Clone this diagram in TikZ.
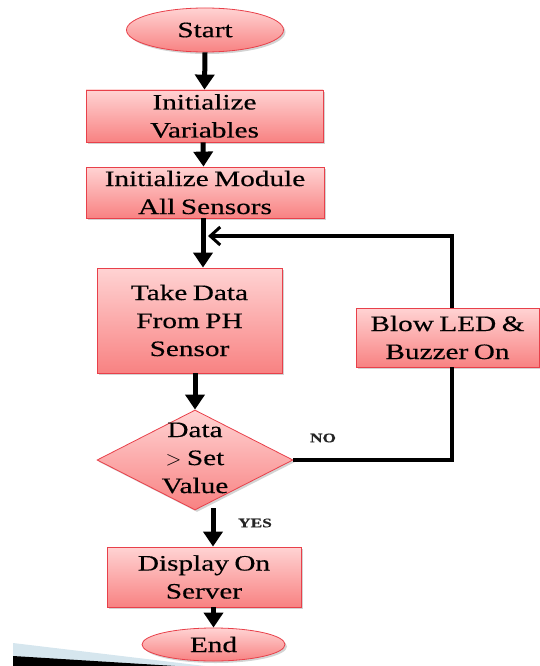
\documentclass[tikz,border=0pt]{standalone}
\usepackage{fontspec}
\setmainfont{Liberation Serif}[FakeStretch=1.33, FakeBold=0.4, WordSpace=0.75]
\usetikzlibrary{shapes.geometric,arrows.meta,shadows}
\definecolor{boxborder}{HTML}{E8404A}
\definecolor{boxtop}{HTML}{FFD3D3}
\definecolor{boxbot}{HTML}{F88282}
\definecolor{bandblue}{HTML}{D6E6EE}
\tikzset{
  box/.style={draw=boxborder, line width=0.8pt, top color=boxtop, bottom color=boxbot,
    inner sep=0pt, align=center, font=\fontsize{22}{28}\selectfont,
    drop shadow={opacity=0.35, shadow xshift=2pt, shadow yshift=-2pt, fill=gray}},
  oval/.style={box, ellipse},
  dia/.style={box, diamond},
  arr/.style={line width=5pt, -{Triangle[width=19pt,length=15pt]}},
  backarr/.style={line width=3.5pt, -{Straight Barb[width=18pt,length=10pt,line width=3pt]}},
  plain/.style={line width=3.5pt},
  lbl/.style={font=\bfseries\fontsize{13}{15}\selectfont, text=black!85}
}
\begin{document}
\begin{tikzpicture}[x=1pt,y=-1pt]
\useasboundingbox (0,0) rectangle (539,666);
% decoration bottom left
\fill[bandblue] (13,643) -- (205,666) -- (13,666) -- cycle;
\fill[black] (13,656) -- (175,666) -- (13,666) -- cycle;
% nodes
\node[oval, minimum width=157pt, minimum height=44pt] (start) at (205,30) {Start};
\node[box, minimum width=237pt, minimum height=52pt] (iv) at (204.5,116) {Initialize\\Variables};
\node[box, minimum width=238pt, minimum height=51pt] (im) at (205,192.5) {Initialize Module\\All Sensors};
\node[box, minimum width=185pt, minimum height=105pt] (td) at (189.5,320.5) {Take Data\\From PH\\Sensor};
\node[box, minimum width=183pt, minimum height=59pt] (blow) at (447.5,337.5) {Blow LED \&\\Buzzer On};
\node[dia, minimum width=196pt, minimum height=100pt] (dec) at (195,460) {};
\node[align=center, inner sep=0pt, font=\fontsize{22}{28}\selectfont] (dectext) at (195,458) {Data\\$>$ Set\\Value};
\node[box, minimum width=194pt, minimum height=60pt] (disp) at (204,577) {Display On\\Server};
\node[oval, minimum width=143pt, minimum height=33pt] (end) at (213.5,644.5) {End};
\node[lbl] (no) at (323,438) {NO};
\node[lbl] (yes) at (255,523) {YES};
\coordinate (join) at (208,236);
% connectors
\draw[arr] (start.south) -- (iv.north);
\draw[arr] ([xshift=-1.5pt]iv.south) -- ([xshift=-1.5pt]im.north);
\draw[arr] ([xshift=-2pt]im.south) -- ([xshift=-2pt]im.south |- td.north);
\draw[arr] (dec.north |- td.south) -- (dec.north);
\draw[arr] ([xshift=18pt,yshift=2pt]dec.south) -- ([xshift=9pt]disp.north);
\draw[arr] (end.north |- disp.south) -- (end.north);
\draw[backarr] ([xshift=4.5pt]blow.north) |- (join);
\draw[plain] (dec.east) -| ([xshift=4.5pt]blow.south);
\end{tikzpicture}
\end{document}
